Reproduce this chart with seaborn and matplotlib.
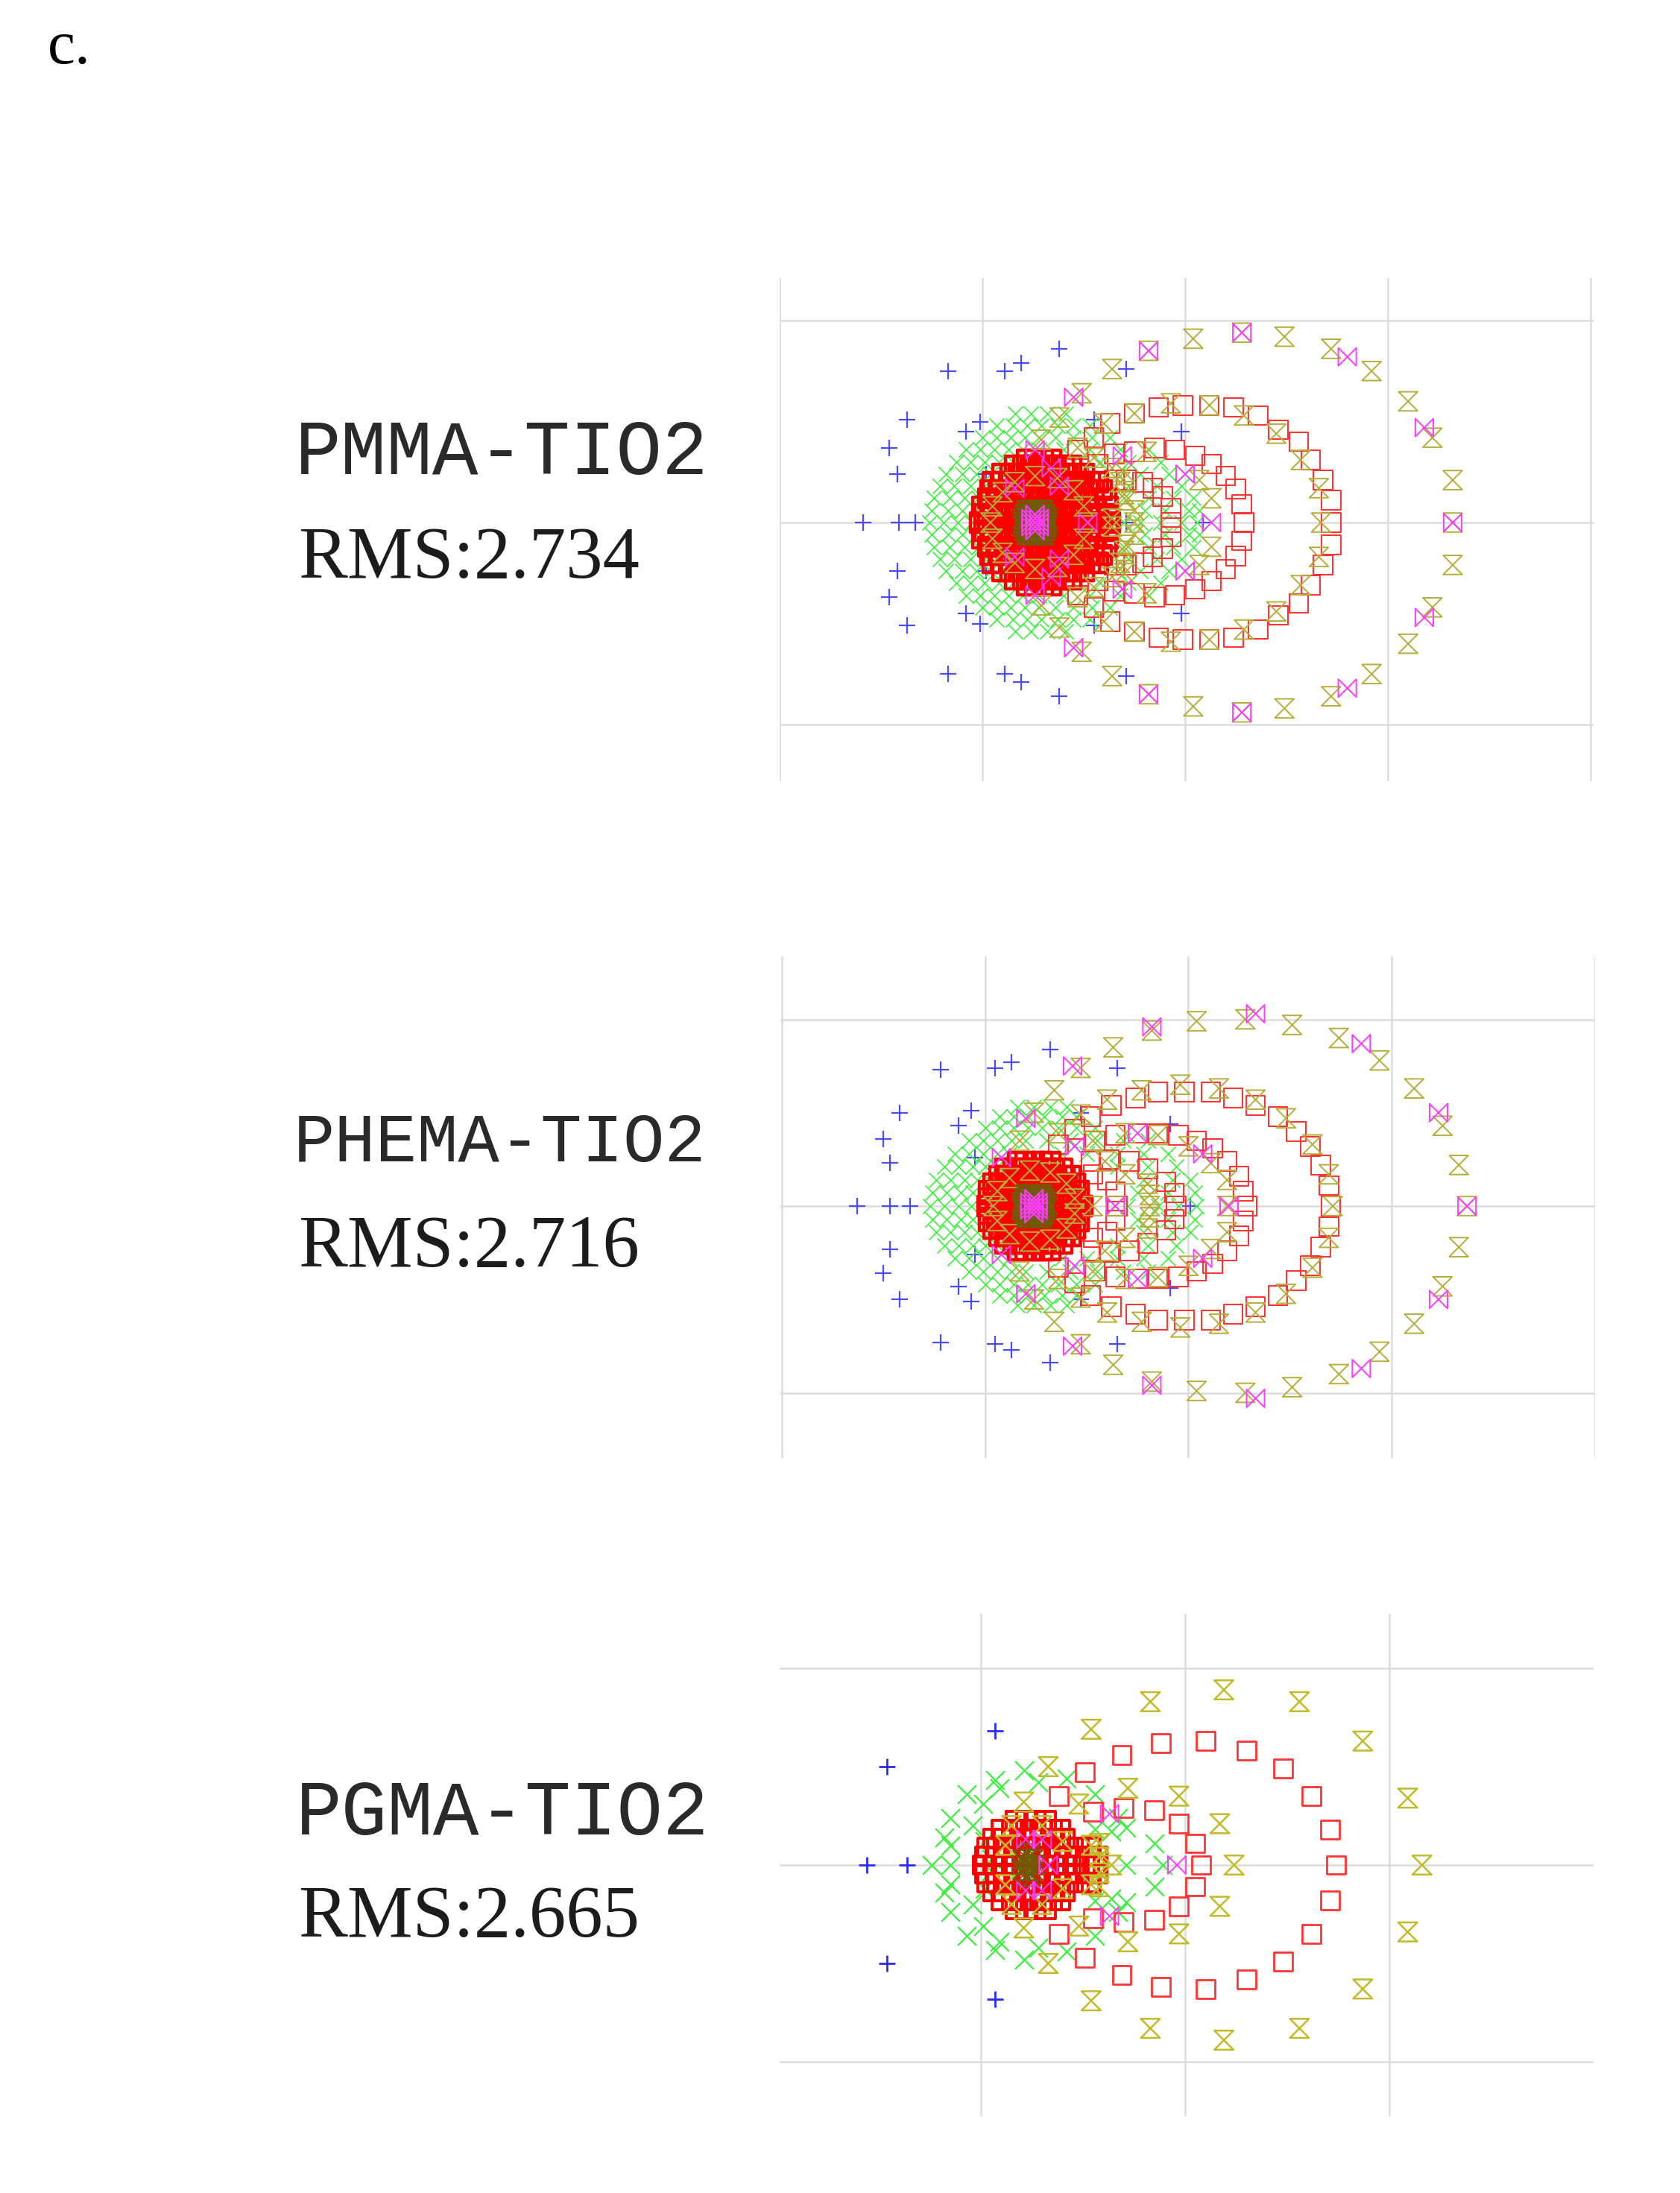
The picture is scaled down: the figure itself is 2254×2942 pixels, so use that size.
# constellation style scatter panels, three polymer systems with their RMS values

import numpy as np
import pandas as pd
import seaborn as sns
import matplotlib.pyplot as plt
from matplotlib.path import Path

names = ["PMMA-TIO2", "PHEMA-TIO2", "PGMA-TIO2"]
rms = ["RMS:2.734", "RMS:2.716", "RMS:2.665"]

# all panels are mirror images about y=0, so only y >= 0 is listed here

# panel 1
p1_blue = [(-1.59,0),(-1.41,0),(-1.33,0),(-0.29,0),(0.09,0),(-1.42,0.24),(-1.46,0.37),(-1.37,0.51),(-1.17,0.75),
           (-0.89,0.75),(-0.81,0.79),(-0.62,0.86),(-0.29,0.76),(-1.08,0.45),(-1.01,0.50),(-0.45,0.51),(-0.02,0.45),(-0.98,0.24)]
p1_olive = [(1.32,0.21),(1.22,0.42),(1.10,0.60),(0.92,0.75),(0.72,0.86),(0.49,0.92),(0.28,0.94),(0.04,0.91),(-0.18,0.85),
            (-0.36,0.76),(-0.51,0.64),(-0.62,0.52),(-0.71,0.41),(1.32,0),(0.67,0),(0.66,0.17),(0.57,0.31),(0.45,0.44),
            (0.29,0.53),(0.12,0.58),(-0.07,0.59),(-0.25,0.54),(-0.40,0.49),(-0.53,0.37),(0.13,0.12),(0.07,0.21),(-0.19,0.35),
            (-0.45,0.32),(-0.29,0.11),(-0.25,0),(-0.25,0.06),(-0.36,0.02),(-0.96,0),(-0.95,0.08),(-0.90,0.15),(-0.84,0.20),
            (-0.74,0.23),(-0.63,0.22),(-0.55,0.16),(-0.50,0.08),(-0.48,0),(-0.32,0.20),(-0.30,0.14),(-0.30,0.25),(-0.36,0.27)]
p1_magenta = [(0.28,0.94),(-0.18,0.85),(0.80,0.82),(-0.55,0.62),(1.18,0.47),(-0.74,0.36),(-0.31,0.33),(0.00,0.24),(1.32,0),
              (0.13,0),(-0.84,0.17),(-0.62,0.18),(-0.66,0.27),(-0.48,0),
              (-0.74,0),(-0.72,0),(-0.76,0),(-0.74,0.02),(-0.72,0.02),(-0.76,0.02),(-0.74,0.04)]
p1_red = [(0.72,0),(0.72,0.11),(0.68,0.21),(0.62,0.31),(0.56,0.40),(0.46,0.46),(0.36,0.53),(0.24,0.57),(0.12,0.58),(-0.01,0.58),
          (-0.13,0.57),(-0.25,0.54),(-0.37,0.49),(-0.45,0.42),(-0.53,0.36),(0.29,0),(0.28,0.09),(0.25,0.165),(0.20,0.23),(0.13,0.29),
          (0.05,0.33),(-0.05,0.36),(-0.15,0.37),(-0.25,0.35),(-0.35,0.34),(-0.43,0.29),(-0.07,0),(-0.07,0.07),(-0.11,0.13),
          (-0.16,0.17),(-0.21,0.20),(-0.29,0.21),(-0.35,0.21)]
p1_disc = {
    0.00: [-1.01,-0.97,-0.93,-0.89,-0.85,-0.81,-0.77,-0.73,-0.69,-0.65,-0.61,-0.57,-0.53,-0.49,-0.45,-0.41,-0.37],
    0.04: [-0.99,-0.95,-0.91,-0.87,-0.83,-0.79,-0.75,-0.71,-0.67,-0.63,-0.59,-0.55,-0.51,-0.47,-0.43,-0.38],
    0.08: [-1.00,-0.96,-0.92,-0.88,-0.84,-0.80,-0.76,-0.72,-0.68,-0.64,-0.60,-0.56,-0.52,-0.48,-0.44,-0.38],
    0.12: [-0.97,-0.93,-0.89,-0.85,-0.81,-0.77,-0.73,-0.69,-0.65,-0.61,-0.57,-0.53,-0.49,-0.45,-0.39],
    0.16: [-0.96,-0.92,-0.88,-0.84,-0.80,-0.76,-0.72,-0.68,-0.64,-0.60,-0.56,-0.52,-0.48,-0.45,-0.41],
    0.20: [-0.95,-0.91,-0.87,-0.83,-0.79,-0.75,-0.71,-0.67,-0.63,-0.59,-0.55,-0.51,-0.47,-0.43],
    0.24: [-0.90,-0.86,-0.82,-0.78,-0.74,-0.70,-0.66,-0.62,-0.58,-0.54,-0.50],
    0.28: [-0.84,-0.80,-0.76,-0.72,-0.68,-0.64,-0.60,-0.56],
    0.31: [-0.78,-0.74,-0.70,-0.66],
}
p1_core = {
    0.00: [-0.80,-0.78,-0.76,-0.74,-0.72,-0.70,-0.68],
    0.02: [-0.80,-0.78,-0.76,-0.74,-0.72,-0.70,-0.68],
    0.04: [-0.79,-0.77,-0.75,-0.73,-0.71,-0.69],
    0.06: [-0.78,-0.76,-0.74,-0.72,-0.70],
}
p1_green = {
    0.00: [-1.26,-1.19,-1.12,-1.05,-0.30,-0.22,-0.12,-0.02,0.06],
    0.06: [-1.25,-1.17,-1.10,-1.03,-0.20,-0.10,0.02,0.07],
    0.12: [-1.24,-1.16,-1.09,-1.02,-0.95,-0.30,-0.18,-0.06,0.04],
    0.18: [-1.21,-1.14,-1.06,-0.99,-0.92,-0.28,-0.14,-0.02],
    0.24: [-1.18,-1.10,-1.03,-0.96,-0.89,-0.33,-0.22,-0.08,0.00],
    0.30: [-1.13,-1.06,-0.99,-0.92,-0.85,-0.78,-0.68,-0.55,-0.42,-0.28,-0.12],
    0.36: [-1.08,-1.01,-0.94,-0.87,-0.80,-0.72,-0.60,-0.47,-0.32,-0.18],
    0.42: [-1.00,-0.93,-0.86,-0.79,-0.72,-0.64,-0.55,-0.46,-0.37],
    0.48: [-0.93,-0.85,-0.78,-0.71,-0.63,-0.55,-0.47],
    0.54: [-0.84,-0.76,-0.68,-0.59],
}

# panel 2
p2_blue = [(-1.63,0),(-1.47,0),(-1.37,0),(0.01,0),(-1.47,0.23),(-1.50,0.36),(-1.42,0.50),(-1.22,0.73),(-0.95,0.74),(-0.87,0.77),
           (-0.68,0.84),(-0.35,0.74),(-1.07,0.51),(-1.13,0.43),(-1.05,0.26),(-0.53,0.50),(-0.09,0.44)]
p2_olive = [(1.33,0.22),(1.25,0.43),(1.11,0.63),(0.94,0.78),(0.74,0.90),(0.51,0.97),(0.28,1.00),(0.04,0.99),(-0.18,0.94),
            (-0.37,0.85),(-0.53,0.74),(-0.66,0.62),(-0.76,0.50),(-0.83,0.35),(1.37,0),(0.71,0),(0.69,0.17),(0.61,0.33),(0.48,0.47),
            (0.33,0.57),(0.15,0.63),(-0.04,0.65),(-0.23,0.62),(-0.40,0.57),(-0.53,0.49),(-0.64,0.39),(0.19,0.14),(0.11,0.23),(0.00,0.32),
            (-0.15,0.38),(-0.31,0.39),(-0.47,0.35),(0.19,0),(-0.19,0),(-0.19,0.06),(-0.20,0.12),(-0.31,0.17),(-0.41,0.24),(-0.36,0),
            (-0.47,0),(-0.96,0),(-0.94,0.08),(-0.88,0.15),(-0.78,0.19),(-0.68,0.18),(-0.60,0.12),(-0.56,0.04)]
p2_magenta = [(0.33,1.03),(-0.18,0.96),(0.85,0.87),(-0.57,0.75),(1.23,0.50),(-0.80,0.47),(-0.25,0.39),(-0.56,0.32),(0.07,0.28),
              (-0.92,0.26),(1.37,0),(0.20,0),(-0.36,0),(-0.76,0),(-0.74,0),(-0.78,0),(-0.76,0.02),(-0.74,0.02),(-0.78,0.02),(-0.76,0.04)]
p2_red = [(0.70,0),(0.69,0.11),(0.65,0.22),(0.60,0.32),(0.53,0.40),(0.44,0.48),(0.33,0.54),(0.22,0.58),(0.11,0.61),(-0.02,0.61),
          (-0.15,0.61),(-0.26,0.58),(-0.38,0.54),(-0.48,0.48),(-0.56,0.41),(-0.64,0.33),(0.29,0),(0.27,0.08),(0.25,0.16),(0.19,0.24),
          (0.12,0.31),(0.04,0.35),(-0.05,0.38),(-0.15,0.39),(-0.25,0.39),(-0.36,0.38),(-0.46,0.35),(-0.06,0),(-0.07,0.07),(-0.11,0.13),
          (-0.20,0.20),(-0.29,0.24),(-0.39,0.25),(-0.48,0.24),(-0.35,0),(-0.36,0.075),(-0.40,0.14),(-0.47,0.17)]
p2_disc = {
    0.00: [-0.99,-0.95,-0.91,-0.87,-0.83,-0.79,-0.75,-0.71,-0.67,-0.63,-0.59,-0.55,-0.52],
    0.04: [-0.98,-0.94,-0.90,-0.86,-0.82,-0.78,-0.74,-0.70,-0.66,-0.62,-0.58,-0.54],
    0.08: [-0.98,-0.94,-0.90,-0.86,-0.82,-0.78,-0.74,-0.70,-0.66,-0.62,-0.58,-0.54],
    0.12: [-0.96,-0.92,-0.88,-0.84,-0.80,-0.76,-0.72,-0.68,-0.64,-0.60,-0.56],
    0.16: [-0.93,-0.89,-0.85,-0.81,-0.77,-0.73,-0.69,-0.65,-0.61,-0.58],
    0.20: [-0.90,-0.86,-0.82,-0.78,-0.74,-0.70,-0.66,-0.62],
    0.235: [-0.84,-0.80,-0.76,-0.72,-0.68],
}
p2_core = {
    0.00: [-0.82,-0.80,-0.78,-0.76,-0.74,-0.72,-0.70],
    0.02: [-0.82,-0.80,-0.78,-0.76,-0.74,-0.72,-0.70],
    0.04: [-0.81,-0.79,-0.77,-0.75,-0.73,-0.71],
    0.06: [-0.80,-0.78,-0.76,-0.74,-0.72],
}
p2_green = {
    0.00: [-1.27,-1.20,-1.13,-1.07,-0.30,-0.15,-0.05,0.04],
    0.07: [-1.26,-1.19,-1.12,-1.06,-0.25,-0.10,0.03],
    0.14: [-1.24,-1.17,-1.10,-1.04,-0.98,-0.22,-0.08,0.01],
    0.21: [-1.20,-1.13,-1.06,-1.00,-0.94,-0.35,-0.20,-0.06],
    0.28: [-1.15,-1.08,-1.01,-0.94,-0.88,-0.62,-0.50,-0.35,-0.22,-0.10],
    0.35: [-1.08,-1.01,-0.94,-0.87,-0.80,-0.70,-0.58,-0.45,-0.32,-0.20],
    0.42: [-1.00,-0.93,-0.86,-0.79,-0.72,-0.64,-0.55,-0.46],
    0.48: [-0.93,-0.86,-0.79,-0.71,-0.62,-0.55],
    0.53: [-0.84,-0.76,-0.68,-0.60],
}

# panel 3
p3_blue = [(-1.56,0),(-1.36,0),(-0.52,0),(-1.46,0.50),(-0.93,0.68)]
p3_olive = [(1.16,0),(1.09,0.34),(0.87,0.63),(0.56,0.83),(0.19,0.89),(-0.17,0.83),(-0.46,0.69),(-0.67,0.50),(-0.79,0.32),(0.24,0),
            (0.17,0.21),(-0.03,0.35),(-0.28,0.39),(-0.52,0.31),(-0.36,0),(-0.42,0.11),(-0.42,0.04),(-0.46,0.10),(-0.60,0.12),
            (-0.88,0.10),(-0.70,0.20),(-0.85,0.20)]
p3_magenta = [(-0.04,0),(-0.37,0.26),(-0.78,0.13),(-0.70,0.13),(-0.67,0)]
p3_red = [(0.74,0),(0.71,0.18),(0.62,0.35),(0.48,0.49),(0.30,0.58),(0.10,0.63),(-0.12,0.62),(-0.31,0.56),(-0.49,0.47),(-0.62,0.35),
          (0.08,0),(0.05,0.11),(-0.03,0.21),(-0.15,0.28),(-0.30,0.29),(-0.45,0.27)]
p3_disc = {
    0.00: [-0.99,-0.94,-0.89,-0.84,-0.79,-0.74,-0.69,-0.64,-0.59,-0.54,-0.49,-0.44],
    0.045: [-0.98,-0.93,-0.88,-0.83,-0.78,-0.73,-0.68,-0.63,-0.58,-0.53,-0.47,-0.43],
    0.09: [-0.97,-0.92,-0.87,-0.82,-0.77,-0.72,-0.67,-0.62,-0.57,-0.52,-0.46],
    0.135: [-0.94,-0.89,-0.84,-0.79,-0.74,-0.69,-0.64,-0.59],
    0.18: [-0.90,-0.85,-0.80,-0.75,-0.70,-0.65,-0.61],
    0.225: [-0.83,-0.78,-0.73,-0.68],
}
p3_core = {
    0.00: [-0.81,-0.78,-0.75,-0.73],
    0.03: [-0.80,-0.77,-0.74],
    0.06: [-0.78,-0.75],
}
p3_green = [(-1.24,0),(-1.15,0),(-0.29,0),(-0.11,0),(-0.15,0.11),(-0.29,0.19),(-0.44,0.18),(-0.44,0.36),(-0.58,0.44),(-0.72,0.42),
            (-0.79,0.48),(-0.91,0.39),(-0.93,0.43),(-0.99,0.31),(-1.07,0.36),(-1.04,0.20),(-1.15,0.24),(-1.18,0.14),(-1.15,0.10),
            (-0.98,0.12),(-0.95,0.03),(-0.36,0.17),(-0.33,0.24)]


def from_rows(rows):
    return [(x, y) for y, xs in rows.items() for x in xs]


def mirrored(points):
    a = np.array(points, dtype=float)
    upper = a[a[:, 1] > 0]
    return pd.DataFrame(np.vstack([a, upper * [1, -1]]), columns=["x", "y"])


# hourglass and bowtie markers are not in matplotlib
hourglass = Path([(-1, 1), (1, 1), (-1, -1), (1, -1), (-1, 1)], closed=True)
bowtie = Path([(-1, -1), (-1, 1), (1, -1), (1, 1), (-1, -1)], closed=True)

W, H = 2254, 2942
DPI = 100

sns.set_theme(style="whitegrid", rc={"grid.color": "#dcdcdc", "grid.linewidth": 1.8})
plt.rcParams["font.family"] = ["Liberation Mono", "DejaVu Sans"]

fig = plt.figure(figsize=(W / DPI, H / DPI), dpi=DPI, facecolor="white")

# origin pixel, unit size in pixels, extent in pixels, vertical gridlines
layouts = [
    dict(x0=1590, ux=272, y0=701, uy=271, left=1046, right=2138, top=373, bottom=1048, xgrid=[-2, -1, 0, 1, 2]),
    dict(x0=1595, ux=273, y0=1618, uy=250.5, left=1047, right=2140, top=1283, bottom=1956, xgrid=[-2, -1, 0, 1, 2]),
    dict(x0=1590, ux=274, y0=2502, uy=264, left=1046, right=2138, top=2165, bottom=2839, xgrid=[-1, 0, 1]),
]
text_pos = [(396, 636, 400, 775), (394, 1558, 400, 1699), (397, 2461, 400, 2598)]
name_sizes = [74, 66.5, 74]

series = [
    (p1_blue, from_rows(p1_green), p1_red, from_rows(p1_disc), p1_olive, from_rows(p1_core), p1_magenta),
    (p2_blue, from_rows(p2_green), p2_red, from_rows(p2_disc), p2_olive, from_rows(p2_core), p2_magenta),
    (p3_blue, p3_green, p3_red, from_rows(p3_disc), p3_olive, from_rows(p3_core), p3_magenta),
]

styles = [
    dict(marker="+", s=240, color="#4a4aff", linewidth=1.6),
    dict(marker="x", s=210, color="#3cf03c", linewidth=1.2),
    dict(marker="s", s=340, facecolor="none", edgecolor="#ff3434", linewidth=1.5),
    dict(marker="s", s=340, facecolor="none", edgecolor="#ff0000", linewidth=3.2),
    dict(marker=hourglass, s=340, facecolor="none", edgecolor="#b5ad3a", linewidth=1.4),
    dict(marker=hourglass, s=340, facecolor="none", edgecolor="#6e5c08", linewidth=2.0),
    dict(marker=bowtie, s=300, facecolor="none", edgecolor="#ff3cff", linewidth=1.4),
]
# panel 3 has bolder marks, bigger crosses and a thinner core
p3_tweaks = {0: dict(color="#2a2aff", linewidth=2.0), 1: dict(s=320, linewidth=1.6), 2: dict(linewidth=2.0, s=320),
             3: dict(linewidth=2.8, s=320), 4: dict(linewidth=1.8, edgecolor="#c2ba28"), 5: dict(linewidth=1.3, s=300)}

for i, lay in enumerate(layouts):
    ax = fig.add_axes([lay["left"] / W, 1 - lay["bottom"] / H, (lay["right"] - lay["left"]) / W,
                       (lay["bottom"] - lay["top"]) / H])
    ax.set_xlim((lay["left"] - lay["x0"]) / lay["ux"], (lay["right"] - lay["x0"]) / lay["ux"])
    ax.set_ylim((lay["y0"] - lay["bottom"]) / lay["uy"], (lay["y0"] - lay["top"]) / lay["uy"])
    ax.set_xticks(lay["xgrid"])
    ax.set_yticks([-1, 0, 1])
    ax.set_xticklabels([])
    ax.set_yticklabels([])
    ax.tick_params(length=0)
    ax.set_axisbelow(True)
    ax.patch.set_alpha(0)
    for side in ax.spines.values():
        side.set_visible(False)

    for j, (points, style) in enumerate(zip(series[i], styles)):
        kw = dict(style)
        if i == 2:
            kw.update(p3_tweaks.get(j, {}))
        df = mirrored(points)
        sns.scatterplot(data=df, x="x", y="y", ax=ax, legend=False, clip_on=False, **kw)
    ax.set_xlabel("")
    ax.set_ylabel("")

    nx, ny, rx, ry = text_pos[i]
    fig.text(nx / W, 1 - ny / H, names[i], fontsize=name_sizes[i], color="#2a2a2a", va="baseline", ha="left")
    fig.text(rx / W, 1 - ry / H, rms[i], fontsize=71, family=["Liberation Serif", "DejaVu Serif"], color="#1c1c1c",
             va="baseline", ha="left")

fig.text(64 / W, 1 - 85 / H, "c.", fontsize=60, family=["Liberation Serif", "DejaVu Serif"],
         color="black", va="baseline", ha="left")

fig.savefig("out.png", dpi=DPI, facecolor="white")
